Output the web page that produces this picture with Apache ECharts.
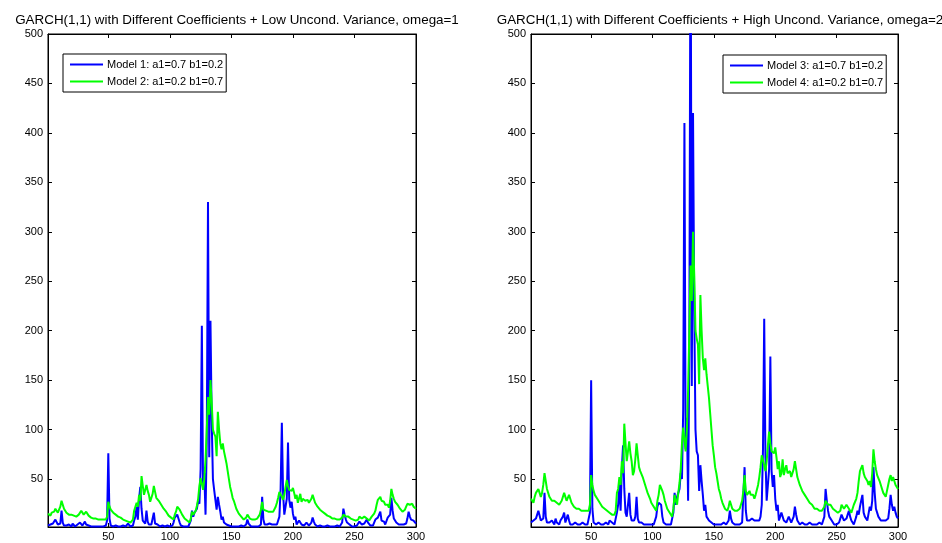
<!DOCTYPE html>
<html>
<head>
<meta charset="utf-8">
<script src="https://cdn.jsdelivr.net/npm/echarts@6/dist/echarts.min.js"></script>
<style>
html,body{margin:0;padding:0;background:#fff;}
#chart{width:942px;height:543px;}
</style>
</head>
<body>
<div id="chart"></div>
<script>
// ---- data ----
var titles = [
  "GARCH(1,1) with Different Coefficients + Low Uncond. Variance, omega=1",
  "GARCH(1,1) with Different Coefficients + High Uncond. Variance, omega=2"
];
var seriesNames = [
  "Model 1: a1=0.7 b1=0.2",
  "Model 2: a1=0.2 b1=0.7",
  "Model 3: a1=0.7 b1=0.2",
  "Model 4: a1=0.2 b1=0.7"
];
var xTicks = [50, 100, 150, 200, 250, 300];
var yTicks = [50, 100, 150, 200, 250, 300, 350, 400, 450, 500];

var model1 = [
 3,2,4,3,5,4,9,10,4,3,
 5,18,6,3,2,3,2,4,3,2,
 5,3,2,2,4,3,6,8,3,2,
 7,4,2,3,2,2,3,2,2,2,
 2,2,3,2,2,2,2,3,8,76,
 10,3,2,2,2,3,2,2,2,2,
 2,3,2,2,4,5,3,2,2,3,
 8,12,22,9,30,42,20,8,6,5,
 18,7,4,3,4,6,16,5,3,4,
 3,2,2,3,2,2,2,3,2,2,
 2,3,6,11,13,14,12,6,3,2,
 2,2,2,2,2,3,8,18,12,16,
 18,20,28,25,60,205,40,56,14,90,
 330,72,210,110,50,39,37,19,32,24,
 17,9,12,6,5,4,3,3,2,2,
 2,2,3,2,2,2,2,3,2,2,
 3,4,9,5,3,2,2,2,2,2,
 2,2,3,4,32,9,4,3,4,3,
 5,6,4,3,4,3,4,6,12,40,
 107,36,14,22,30,87,29,21,27,15,
 9,12,4,6,8,9,4,5,3,4,
 6,5,3,4,6,11,7,4,3,2,
 2,3,2,2,3,2,2,3,2,2,
 3,2,2,2,2,3,2,2,3,6,
 20,14,9,6,7,4,3,2,2,2,
 2,3,4,7,6,4,3,5,7,9,
 6,4,3,2,3,6,9,7,11,14,
 17,8,6,7,4,3,11,9,14,31,
 18,10,8,6,5,4,3,4,3,4,
 3,5,10,17,12,9,11,8,6,5
];
var model2 = [
 15,14,13,16,18,17,20,19,16,18,
 22,28,24,20,18,16,15,14,13,14,
 15,13,12,12,13,14,15,18,16,14,
 13,17,15,13,12,11,11,10,11,10,
 10,9,10,9,9,9,9,9,12,27,
 22,19,17,16,15,14,13,12,11,11,
 10,9,9,8,8,7,7,6,7,9,
 18,20,26,22,34,28,53,43,34,33,
 44,38,34,27,29,35,43,37,31,29,
 28,26,24,22,20,18,17,15,13,12,
 11,10,9,14,17,22,21,19,17,14,
 12,10,9,8,7,6,10,17,14,12,
 18,23,30,43,51,45,39,50,70,100,
 133,115,150,128,100,96,93,73,118,100,
 86,80,86,78,72,66,58,50,42,37,
 31,28,24,20,18,15,13,12,10,9,
 9,11,14,12,10,9,9,10,9,10,
 10,11,14,19,27,19,17,18,19,17,
 16,17,15,17,18,22,26,31,37,36,
 32,29,34,42,49,43,39,40,38,41,
 36,30,34,26,28,35,27,30,32,28,
 27,29,26,28,30,34,30,26,24,22,
 21,19,18,17,16,15,14,13,12,12,
 11,10,9,10,9,9,10,9,9,11,
 14,13,12,13,12,11,10,10,9,8,
 8,7,9,12,11,10,11,12,11,10,
 9,8,10,12,11,15,18,24,29,30,
 32,28,26,27,24,22,24,21,28,40,
 34,30,27,26,24,22,20,18,17,16,
 19,22,25,27,24,26,25,22,21,20
];
var model3 = [
 6,4,8,6,10,8,18,20,8,6,
 10,36,12,6,4,6,4,8,6,4,
 10,6,4,4,8,6,12,16,6,4,
 14,8,4,6,4,4,6,4,4,4,
 4,4,6,4,4,4,4,6,16,150,
 20,6,4,4,4,6,4,4,4,4,
 4,6,4,4,8,10,6,4,4,6,
 16,24,44,18,60,84,40,16,12,10,
 36,14,8,6,8,12,32,10,6,8,
 6,4,4,6,4,4,4,6,4,4,
 4,6,12,22,26,28,24,12,6,4,
 4,4,4,4,4,6,16,36,24,32,
 36,40,56,50,120,410,80,112,28,180,
 660,144,420,220,100,78,74,38,64,48,
 34,18,24,12,10,8,6,6,4,4,
 4,4,6,4,4,4,4,6,4,4,
 6,8,18,10,6,4,4,4,4,4,
 4,4,6,8,62,18,8,6,8,6,
 10,12,8,6,8,6,8,12,24,80,
 212,72,28,44,60,174,58,42,54,30,
 18,24,8,12,16,18,8,10,6,8,
 12,10,6,8,12,22,14,8,6,4,
 4,6,4,4,6,4,4,6,4,4,
 6,4,4,4,4,6,4,4,6,12,
 40,28,18,12,14,8,6,4,4,4,
 4,6,8,14,12,8,6,10,14,18,
 12,8,6,4,6,12,18,14,22,28,
 34,16,12,14,8,6,22,18,28,62,
 36,20,16,12,10,8,6,8,6,8,
 6,10,20,34,24,18,22,16,12,10
];
var model4 = [
 30,28,26,32,36,34,40,38,32,36,
 44,56,48,40,36,32,30,28,26,28,
 30,26,24,24,26,28,30,36,32,28,
 26,34,30,26,24,22,22,20,22,20,
 20,18,20,18,18,18,18,18,24,54,
 44,38,34,32,30,28,26,24,22,22,
 20,18,18,16,16,14,14,12,14,18,
 36,40,52,44,68,56,106,86,68,66,
 88,76,68,54,58,70,86,74,62,58,
 56,52,48,44,40,36,34,30,26,24,
 22,20,18,28,34,44,42,38,34,28,
 24,20,18,16,14,12,20,34,28,24,
 36,46,60,86,102,90,78,100,140,200,
 266,230,300,256,200,192,186,146,236,200,
 172,160,172,156,144,132,116,100,84,74,
 62,56,48,40,36,30,26,24,20,18,
 18,22,28,24,20,18,18,20,18,20,
 20,22,28,38,54,38,34,36,38,34,
 32,34,30,34,36,44,52,62,74,72,
 64,58,68,84,98,86,78,80,76,82,
 72,60,68,52,56,70,54,60,64,56,
 54,58,52,56,60,68,60,52,48,44,
 42,38,36,34,32,30,28,26,24,24,
 22,20,18,20,18,18,20,18,18,22,
 28,26,24,26,24,22,20,20,18,16,
 16,14,18,24,22,20,22,24,22,20,
 18,16,20,24,22,30,36,48,58,60,
 64,56,52,54,48,44,48,42,56,80,
 68,60,54,52,48,44,40,36,34,32,
 38,44,50,54,48,52,50,44,42,40
];

// time index 1..300
var t = [];
for (var k = 1; k <= model1.length; k++) t.push(k);
function pairs(arr){ return arr.map(function(v,i){ return [t[i], v]; }); }

var FONT = "Liberation Sans, Arial, Helvetica, sans-serif";
var grids = [
  {left: 48, top: 34, width: 368, height: 493},
  {left: 531, top: 34, width: 367, height: 493}
];
var X_MIN = 1, X_MAX = 300, Y_MIN = 1.5, Y_MAX = 500;

var xAxes = [], yAxes = [];
for (var g = 0; g < 2; g++) {
  xAxes.push({
    type: 'value', gridIndex: g, min: X_MIN, max: X_MAX, position: 'bottom',
    axisLine: {show: true, onZero: false, lineStyle: {color: '#000', width: 1}},
    axisTick: {show: true, inside: true, length: 4, customValues: xTicks, lineStyle: {color: '#000'}},
    axisLabel: {show: true, customValues: xTicks, color: '#000', fontSize: 11, fontFamily: FONT, margin: 4},
    splitLine: {show: false}
  });
  xAxes.push({
    type: 'value', gridIndex: g, min: X_MIN, max: X_MAX, position: 'top',
    axisLine: {show: true, onZero: false, lineStyle: {color: '#000', width: 1}},
    axisTick: {show: true, inside: true, length: 4, customValues: xTicks, lineStyle: {color: '#000'}},
    axisLabel: {show: false},
    splitLine: {show: false}
  });
  yAxes.push({
    type: 'value', gridIndex: g, min: Y_MIN, max: Y_MAX, position: 'left',
    axisLine: {show: true, onZero: false, lineStyle: {color: '#000', width: 1}},
    axisTick: {show: true, inside: true, length: 4, customValues: yTicks, lineStyle: {color: '#000'}},
    axisLabel: {show: true, customValues: yTicks, color: '#000', fontSize: 11, fontFamily: FONT, margin: 5},
    splitLine: {show: false}
  });
  yAxes.push({
    type: 'value', gridIndex: g, min: Y_MIN, max: Y_MAX, position: 'right',
    axisLine: {show: true, onZero: false, lineStyle: {color: '#000', width: 1}},
    axisTick: {show: true, inside: true, length: 4, customValues: yTicks, lineStyle: {color: '#000'}},
    axisLabel: {show: false},
    splitLine: {show: false}
  });
}

function lineSeries(name, arr, color, g) {
  return {
    name: name, type: 'line', xAxisIndex: g * 2, yAxisIndex: g * 2,
    data: pairs(arr), showSymbol: false, symbol: 'none', clip: true,
    lineStyle: {color: color, width: 2}, itemStyle: {color: color},
    emphasis: {disabled: true}, animation: false
  };
}

var lineIcon = 'path://M0,0 H33 V2 H0 Z';
var legendCommon = {
  orient: 'vertical', selectedMode: false, icon: lineIcon,
  itemWidth: 33, itemHeight: 12, itemGap: 6,
  borderColor: '#000', borderWidth: 1, backgroundColor: '#fff',
  padding: [5, 3, 5, 7],
  textStyle: {color: '#000', fontSize: 11, fontFamily: FONT, padding: [0, 0, 0, -1]}
};

var option = {
  backgroundColor: '#fff',
  animation: false,
  title: [
    {text: titles[0], left: 232, top: 9, textAlign: 'center',
     textStyle: {fontSize: 13.4, fontWeight: 'normal', color: '#000', fontFamily: FONT}},
    {text: titles[1], left: 715, top: 9, textAlign: 'center',
     textStyle: {fontSize: 13.4, fontWeight: 'normal', color: '#000', fontFamily: FONT}}
  ],
  legend: [
    Object.assign({}, legendCommon, {left: 63, top: 54, data: [seriesNames[0], seriesNames[1]]}),
    Object.assign({}, legendCommon, {left: 723, top: 55, data: [seriesNames[2], seriesNames[3]]})
  ],
  grid: grids.map(function(gr){ return Object.assign({show: true, borderColor: '#000', borderWidth: 1, containLabel: false}, gr); }),
  xAxis: xAxes,
  yAxis: yAxes,
  series: [
    lineSeries(seriesNames[0], model1, '#0000FF', 0),
    lineSeries(seriesNames[1], model2, '#00FF00', 0),
    lineSeries(seriesNames[2], model3, '#0000FF', 1),
    lineSeries(seriesNames[3], model4, '#00FF00', 1)
  ]
};

var chart = echarts.init(document.getElementById('chart'), null, {renderer: 'canvas'});
chart.setOption(option);
</script>
</body>
</html>
